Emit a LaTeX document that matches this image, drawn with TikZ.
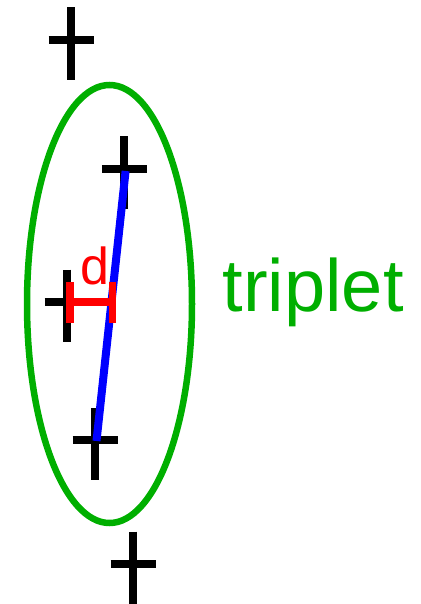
\documentclass[tikz,border=0pt]{standalone}
\usepackage{fontspec}
\setmainfont{Liberation Sans}
\definecolor{tripgreen}{RGB}{0,175,0}
\definecolor{dred}{RGB}{255,0,0}
\definecolor{lineblue}{RGB}{0,0,255}
\begin{document}
\begin{tikzpicture}[x=1pt,y=-1pt,
  crossbar/.style={line width=8pt,black,line cap=butt},
  hitbar/.style={line width=7.5pt,dred,line cap=butt},
  crossmark/.pic={\draw[crossbar] (-22.5,0) -- (22.5,0);
                  \draw[crossbar] (0,-32.5) -- (0,40);}
]
\useasboundingbox (0,0) rectangle (420,604);
% triplet ellipse
\draw[tripgreen,line width=6.5pt] (109.5,304) ellipse [x radius=82.5pt, y radius=219pt];
% hits
\coordinate (c1) at (71,40);
\coordinate (c2) at (124.3,169);
\coordinate (c3) at (67,302);
\coordinate (c4) at (95,440);
\coordinate (c5) at (133,564);
\foreach \c in {c1,c2,c3,c4,c5} \pic at (\c) {crossmark};
% fitted segment
\coordinate (s1) at (125.6,171);
\coordinate (s2) at (96.5,441);
\draw[lineblue,line width=8pt,line cap=butt] (s1) -- (s2);
% distance d
\coordinate (h1) at (70,302);
\coordinate (h2) at (112.5,302);
\draw[hitbar] (h1) -- (h2);
\draw[hitbar] ([yshift=-21pt]h1) -- ([yshift=20pt]h1);
\draw[hitbar] ([yshift=-21pt]h2) -- ([yshift=20pt]h2);
\node[anchor=base west,inner sep=0pt,text=dred,font=\fontsize{52}{56}\selectfont] (dlab) at (80.5,284) {d};
% label
\node[anchor=base west,inner sep=0pt,text=tripgreen,font=\fontsize{74}{80}\selectfont] (tlab) at (222.5,311) {triplet};
\end{tikzpicture}
\end{document}
